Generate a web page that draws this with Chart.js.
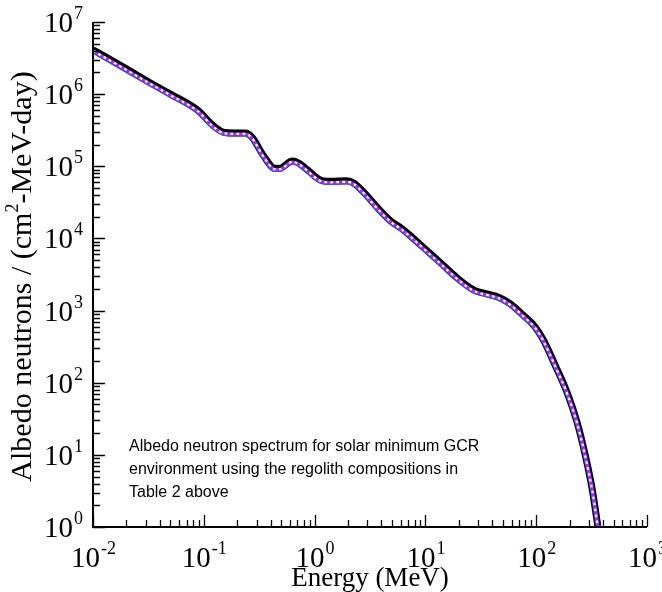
<!DOCTYPE html>
<html lang="en">
<head>
    <meta charset="UTF-8">
    <title>Albedo neutron spectrum</title>
    <style>
        * {
            margin: 0;
            padding: 0;
            box-sizing: border-box;
        }
        body {
            background: #fff;
            width: 662px;
            height: 592px;
            overflow: hidden;
        }
        #wrap {
            position: relative;
            width: 662px;
            height: 592px;
        }
    </style>
</head>
<body>
    <div id="wrap">
        <canvas id="chart" width="662" height="592"></canvas>
    </div>
    <script src="https://cdn.jsdelivr.net/npm/chart.js@4.4.1/dist/chart.umd.min.js"></script>
    <script>
        // Energy grid (MeV)
        const energy = [0.01, 0.02, 0.0327, 0.05, 0.0888, 0.122, 0.150, 0.185, 0.236, 0.272,
            0.345, 0.440, 0.489, 0.628, 0.716, 0.882, 1.12, 1.38, 1.96, 2.25,
            2.77, 3.66, 4.82, 6.15, 7.31, 10.3, 13.6, 19.8, 27.2, 36.0,
            45.8, 58.4, 77.1, 98.4, 117, 149, 190, 234, 278, 320, 360];

        // three overlapping runs (upper / middle / lower edge of the band)
        const fluxBlack = [4.12e6, 2.24e6, 1.44e6, 1.0e6, 5.93e5, 3.64e5, 2.98e5, 2.9e5, 2.9e5, 2.53e5,
            1.41e5, 9.37e4, 9.42e4, 1.18e5, 1.11e5, 8.65e4, 6.49e4, 6.18e4, 6.28e4, 5.87e4,
            4.38e4, 2.71e4, 1.77e4, 1.36e4, 1.09e4, 6.8e3, 4.64e3, 2.75e3, 1.94e3, 1.7e3,
            1.53e3, 1.24e3, 850, 587, 383, 172, 73, 28.2, 9.7, 3.36, 1.03];
        const fluxBlue = [3.92e6, 2.13e6, 1.37e6, 9.5e5, 5.64e5, 3.46e5, 2.83e5, 2.76e5, 2.76e5, 2.41e5,
            1.34e5, 8.9e4, 8.95e4, 1.13e5, 1.06e5, 8.2e4, 6.17e4, 5.88e4, 5.98e4, 5.59e4,
            4.17e4, 2.58e4, 1.69e4, 1.29e4, 1.04e4, 6.47e3, 4.41e3, 2.62e3, 1.84e3, 1.62e3,
            1.46e3, 1.18e3, 810, 559, 365, 164, 69.6, 26.9, 9.2, 3.2, 0.98];
        const fluxMagenta = [4.0e6, 2.17e6, 1.40e6, 9.7e5, 5.76e5, 3.53e5, 2.89e5, 2.82e5, 2.82e5, 2.46e5,
            1.37e5, 9.1e4, 9.15e4, 1.15e5, 1.08e5, 8.4e4, 6.3e4, 6.0e4, 6.1e4, 5.7e4,
            4.25e4, 2.63e4, 1.72e4, 1.32e4, 1.06e4, 6.6e3, 4.5e3, 2.67e3, 1.88e3, 1.65e3,
            1.49e3, 1.20e3, 826, 570, 372, 167, 71, 27.4, 9.4, 3.26, 1.0];

        const xDecades = [-2, -1, 0, 1, 2, 3];
        const yDecades = [0, 1, 2, 3, 4, 5, 6, 7];
        const noteLines = [
            "Albedo neutron spectrum for solar minimum GCR",
            "environment using the regolith compositions in",
            "Table 2 above"
        ];

        const pts = (vals) => energy.map((e, i) => ({ x: e, y: vals[i] }));

        const serif = '"Liberation Serif", "Times New Roman", serif';

        // draws "10" with a raised exponent, anchored by align
        function powLabel(ctx, exp, x, y, align) {
            ctx.font = "29px " + serif;
            const base = "10";
            const bw = ctx.measureText(base).width;
            ctx.font = "18px " + serif;
            const ew = ctx.measureText(String(exp)).width;
            let left = x;
            if (align === "center") left = x - (bw + ew) / 2;
            if (align === "right") left = x - bw - ew;
            ctx.textAlign = "left";
            ctx.textBaseline = "alphabetic";
            ctx.font = "29px " + serif;
            ctx.fillText(base, left, y);
            ctx.font = "18px " + serif;
            ctx.fillText(String(exp), left + bw + 1, y - 13);
        }

        const axesPlugin = {
            id: "axesPlugin",
            afterDatasetsDraw(chart) {
                const ctx = chart.ctx;
                const xs = chart.scales.x, ys = chart.scales.y;
                const area = chart.chartArea;
                ctx.save();
                ctx.strokeStyle = "#000";
                ctx.fillStyle = "#000";

                // axis lines
                ctx.lineWidth = 2;
                ctx.beginPath();
                ctx.moveTo(area.left, area.top);
                ctx.lineTo(area.left, area.bottom);
                ctx.lineTo(area.right, area.bottom);
                ctx.stroke();

                // ticks, pointing into the plot
                ctx.lineWidth = 1.3;
                ctx.beginPath();
                yDecades.forEach(n => {
                    for (let m = 1; m <= 9; m++) {
                        if (n === 7 && m > 1) break;
                        const py = Math.round(ys.getPixelForValue(m * Math.pow(10, n))) + 0.5;
                        const len = m === 1 ? 12 : 7;
                        ctx.moveTo(area.left, py);
                        ctx.lineTo(area.left + len, py);
                    }
                });
                xDecades.forEach(n => {
                    for (let m = 1; m <= 9; m++) {
                        if (n === 3 && m > 1) break;
                        const px = Math.round(xs.getPixelForValue(m * Math.pow(10, n))) + 0.5;
                        const len = m === 1 ? 12 : 7;
                        ctx.moveTo(px, area.bottom);
                        ctx.lineTo(px, area.bottom - len);
                    }
                });
                ctx.stroke();

                // tick labels
                yDecades.forEach(n => {
                    const py = ys.getPixelForValue(Math.pow(10, n));
                    powLabel(ctx, n, area.left - 11, py + 10, "right");
                });
                xDecades.forEach(n => {
                    const px = xs.getPixelForValue(Math.pow(10, n));
                    powLabel(ctx, n, px, area.bottom + 40, "center");
                });

                // x title
                ctx.font = "27px " + serif;
                ctx.textAlign = "center";
                ctx.fillText("Energy (MeV)", (area.left + area.right) / 2, 586);

                // y title, rotated, with superscript 2
                ctx.translate(31, (area.top + area.bottom) / 2 + 2);
                ctx.rotate(-Math.PI / 2);
                const p1 = "Albedo neutrons / (cm", p2 = "2", p3 = "-MeV-day)";
                ctx.font = "30px " + serif;
                const w1 = ctx.measureText(p1).width, w3 = ctx.measureText(p3).width;
                ctx.font = "18px " + serif;
                const w2 = ctx.measureText(p2).width;
                let sx = -(w1 + w2 + w3) / 2;
                ctx.textAlign = "left";
                ctx.font = "30px " + serif;
                ctx.fillText(p1, sx, 0);
                ctx.font = "18px " + serif;
                ctx.fillText(p2, sx + w1, -13);
                ctx.font = "30px " + serif;
                ctx.fillText(p3, sx + w1 + w2, 0);
                ctx.setTransform(1, 0, 0, 1, 0, 0);

                // note
                ctx.font = '16px "Liberation Sans", Arial, sans-serif';
                ctx.textAlign = "left";
                noteLines.forEach((t, i) => ctx.fillText(t, 129, 451 + i * 23));
                ctx.restore();
            }
        };

        const common = { pointRadius: 0, fill: false, cubicInterpolationMode: "monotone" };

        new Chart(document.getElementById("chart"), {
            type: "line",
            plugins: [axesPlugin],
            data: {
                datasets: [
                    { ...common, label: "black", order: 4, data: pts(fluxBlack), borderColor: "#000000", borderWidth: 7 },
                    { ...common, label: "blue", order: 3, data: pts(fluxBlue), borderColor: "#3a55ff", borderWidth: 4 },
                    { ...common, label: "white", order: 2, data: pts(fluxMagenta), borderColor: "#ffffff", borderWidth: 2.2, borderDash: [3, 3] },
                    { ...common, label: "magenta", order: 1, data: pts(fluxMagenta), borderColor: "#ff00ff", borderWidth: 2.2, borderDash: [3, 3], borderDashOffset: 3 }
                ]
            },
            options: {
                responsive: false,
                animation: false,
                layout: { padding: { left: 93, right: 15, top: 22, bottom: 65 } },
                plugins: { legend: { display: false }, tooltip: { enabled: false } },
                scales: {
                    x: { type: "logarithmic", min: 0.01, max: 1000, display: false },
                    y: { type: "logarithmic", min: 1, max: 1e7, display: false }
                }
            }
        });
    </script>
</body>
</html>
